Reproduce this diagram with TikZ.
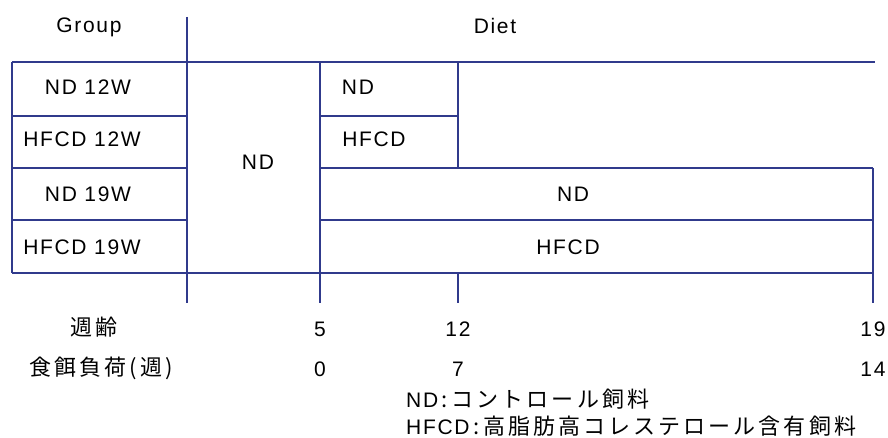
\documentclass[tikz,border=0pt]{standalone}
\usepackage{fontspec}
\setmainfont[LetterSpace=8]{Liberation Sans}
\newfontfamily\jp[LetterSpace=14]{Noto Sans CJK JP}
\newfontfamily\latinleg[LetterSpace=8]{Liberation Sans}
\definecolor{navy}{RGB}{48,58,140}
\begin{document}
\begin{tikzpicture}[x=1pt,y=-1pt,
  grid/.style={draw=navy,line width=2pt},
  lbl/.style={inner sep=0pt,font=\fontsize{21}{24}\selectfont,text=black},
  jlbl/.style={inner sep=0pt,font=\fontsize{22}{25}\selectfont\jp,text=black}]
\useasboundingbox[fill=white] (0,0) rectangle (888,438);
% grid lines
\draw[grid] (187,17) -- (187,303);
\draw[grid] (12,62) -- (875,62);
\draw[grid] (12,62) -- (12,273);
\draw[grid] (12,116) -- (187,116);
\draw[grid] (12,168) -- (187,168);
\draw[grid] (12,220) -- (187,220);
\draw[grid] (12,273) -- (873,273);
\draw[grid] (320,62) -- (320,303);
\draw[grid] (320,116) -- (458,116);
\draw[grid] (320,168) -- (873,168);
\draw[grid] (320,220) -- (873,220);
\draw[grid] (458,62) -- (458,168);
\draw[grid] (458,273) -- (458,303);
\draw[grid] (873,168) -- (873,303);
% headers
\node[lbl] (hgroup) at (89,27) {Group};
\node[lbl] (hdiet) at (495,26) {Diet};
% groups
\node[lbl] (g1) at (88,87) {ND 12W};
\node[lbl] (g2) at (82,139) {HFCD 12W};
\node[lbl] (g3) at (88,194) {ND 19W};
\node[lbl] (g4) at (82,247) {HFCD 19W};
% diets
\node[lbl] (d0) at (258,162) {ND};
\node[lbl] (d1) at (358,87) {ND};
\node[lbl] (d2) at (374,139) {HFCD};
\node[lbl] (d3) at (573,194) {ND};
\node[lbl] (d4) at (568,247) {HFCD};
% axis rows
\node[jlbl] (age) at (94,327) {週齢};
\node[jlbl] (load) at (101,368) {食餌負荷(週)};
\node[lbl] (a5) at (320,329) {5};
\node[lbl] (a12) at (458,329) {12};
\node[lbl] (a19) at (873,329) {19};
\node[lbl] (w0) at (320,369) {0};
\node[lbl] (w7) at (458,369) {7};
\node[lbl] (w14) at (873,369) {14};
% legend
\node[jlbl,anchor=west] (leg1) at (406,399) {{\fontsize{21}{24}\latinleg ND}\,:\,コントロール飼料};
\node[jlbl,anchor=west] (leg2) at (406,426) {{\fontsize{21}{24}\latinleg HFCD}\,:\,高脂肪高コレステロール含有飼料};
\end{tikzpicture}
\end{document}
